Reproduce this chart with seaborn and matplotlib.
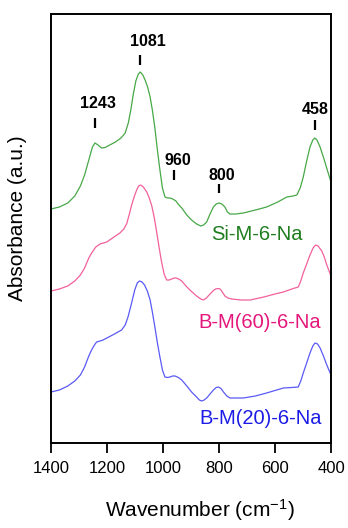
import matplotlib
matplotlib.use("Agg")
import matplotlib.pyplot as plt
import numpy as np
import pandas as pd
import seaborn as sns

# FTIR spectra (absorbance, arbitrary units, stacked with vertical offsets)
wn_si = [1400, 1370, 1340, 1315, 1295, 1280, 1265, 1252, 1243, 1232, 1220, 1207,
         1190, 1170, 1150, 1135, 1124, 1115, 1106, 1097, 1088, 1081, 1072, 1064,
         1055, 1046, 1038, 1029, 1020, 1011, 1002, 993, 984, 975, 965, 954, 943,
         933, 915, 898, 880, 865, 855, 844, 832, 820, 810, 800, 790, 779, 770, 761,
         740, 713, 670, 630, 590, 558, 535, 522, 510, 499, 487, 475, 465, 458, 450,
         439, 425, 410, 400]
abs_si = [2.34, 2.36, 2.40, 2.47, 2.57, 2.68, 2.83, 2.96, 3.00, 2.98, 2.95, 2.955,
          2.98, 3.01, 3.05, 3.10, 3.20, 3.33, 3.49, 3.62, 3.69, 3.71, 3.68, 3.63,
          3.56, 3.46, 3.33, 3.15, 2.93, 2.73, 2.55, 2.46, 2.45, 2.45, 2.44, 2.42, 2.38,
          2.35, 2.28, 2.23, 2.19, 2.17, 2.18, 2.21, 2.29, 2.36, 2.39, 2.40, 2.39, 2.36, 2.31, 2.29,
          2.29, 2.30, 2.33, 2.36, 2.41, 2.46, 2.47, 2.48, 2.55, 2.66, 2.82, 2.96, 3.03, 3.05, 3.03,
          2.96, 2.84, 2.70, 2.61]

wn_b60 = [1400, 1370, 1340, 1315, 1295, 1280, 1265, 1255, 1240, 1225, 1201, 1175,
          1154, 1140, 1130, 1121, 1112, 1102, 1094, 1087, 1080, 1070, 1058, 1049,
          1040, 1031, 1022, 1013, 1005, 996, 987, 978, 969, 960, 954, 944, 933, 918,
          904, 880, 865, 856, 845, 832, 820, 812, 803, 796, 788, 779, 768, 755, 720,
          689, 640, 600, 570, 540, 517, 508, 499, 487, 475, 464, 455, 446, 433, 424,
          415, 400]
abs_b60 = [1.52, 1.54, 1.57, 1.62, 1.68, 1.75, 1.85, 1.90, 1.96, 1.99, 2.01, 2.06,
           2.10, 2.14, 2.19, 2.28, 2.38, 2.47, 2.53, 2.57, 2.58, 2.56, 2.51, 2.45,
           2.37, 2.25, 2.10, 1.94, 1.81, 1.69, 1.63, 1.63, 1.64, 1.65, 1.65, 1.64, 1.62, 1.57,
           1.53, 1.47, 1.44, 1.43, 1.45, 1.49, 1.525, 1.54, 1.545, 1.54, 1.51, 1.47, 1.45, 1.44, 1.43,
           1.43, 1.46, 1.49, 1.51, 1.54, 1.56, 1.62, 1.70, 1.79, 1.88, 1.95, 1.98, 1.97, 1.92, 1.86,
           1.78, 1.67]

wn_b20 = [1400, 1370, 1340, 1315, 1295, 1280, 1265, 1255, 1245, 1237, 1225, 1214,
          1180, 1148, 1135, 1125, 1113, 1101, 1092, 1084, 1075, 1066, 1056, 1046,
          1038, 1029, 1020, 1011, 1002, 993, 984, 975, 966, 957, 945, 933, 915, 898,
          880, 870, 862, 853, 844, 832, 820, 810, 802, 793, 784, 772, 761, 740, 713,
          670, 630, 600, 570, 540, 517, 508, 499, 487, 475, 465, 457, 448, 439, 427,
          415, 400]
abs_b20 = [0.51, 0.53, 0.57, 0.62, 0.68, 0.76, 0.87, 0.93, 0.98, 1.01, 1.02, 1.03,
           1.08, 1.13, 1.18, 1.26, 1.39, 1.53, 1.60, 1.62, 1.61, 1.58, 1.52, 1.43,
           1.31, 1.16, 1.00, 0.86, 0.73, 0.66, 0.655, 0.66, 0.67, 0.67, 0.655, 0.63, 0.57, 0.51,
           0.46, 0.43, 0.42, 0.43, 0.45, 0.49, 0.53, 0.555, 0.56, 0.545, 0.51, 0.47, 0.45, 0.45, 0.45,
           0.47, 0.50, 0.525, 0.55, 0.555, 0.56, 0.62, 0.70, 0.80, 0.90, 0.97, 1.00, 0.99, 0.95, 0.87,
           0.78, 0.68]

sample_names = ["Si-M-6-Na", "B-M(60)-6-Na", "B-M(20)-6-Na"]
line_colors = ["#47a847", "#f2609c", "#5a5af5"]
text_colors = ["#1e7d1e", "#e5167c", "#1c1ce6"]
name_pos = [(664, 2.08), (654, 1.21), (650, 0.25)]

# Band assignments marked above the top spectrum
peak_wn = [1243, 1081, 960, 800, 458]
peak_labels = ["1243", "1081", "960", "800", "458"]
peak_mark_y = [(3.15, 3.25), (3.78, 3.88), (2.63, 2.73), (2.50, 2.59), (3.13, 3.23)]
peak_text_xy = [(1231, 3.40), (1053, 4.01), (946, 2.825), (790, 2.67), (455, 3.34)]

x_ticks = [1400, 1200, 1000, 800, 600, 400]

sns.set_style("ticks")
plt.rcParams["font.family"] = ["Liberation Sans", "DejaVu Sans"]
plt.rcParams["mathtext.default"] = "regular"
plt.rcParams["text.color"] = "black"
plt.rcParams["axes.labelcolor"] = "black"
plt.rcParams["xtick.color"] = "black"
plt.rcParams["ytick.color"] = "black"

fig = plt.figure(figsize=(3.48, 5.28), dpi=100)
ax = fig.add_axes([51 / 348, 85 / 528, 280 / 348, 429 / 528])

spectra = [(wn_si, abs_si), (wn_b60, abs_b60), (wn_b20, abs_b20)]
for (wn, ab), name, lc in zip(spectra, sample_names, line_colors):
    df = pd.DataFrame({"Wavenumber": wn, "Absorbance": ab})
    sns.lineplot(data=df, x="Wavenumber", y="Absorbance", color=lc,
                 linewidth=0.9, ax=ax, sort=False, estimator=None)

for name, tc, (tx, ty) in zip(sample_names, text_colors, name_pos):
    ax.text(tx, ty, name, color=tc, fontsize=14.5, ha="center", va="center")

for wn, lab, (y0, y1), (tx, ty) in zip(peak_wn, peak_labels, peak_mark_y, peak_text_xy):
    ax.plot([wn, wn], [y0, y1], color="black", linewidth=1.6, solid_capstyle="butt")
    ax.text(tx, ty, lab, fontsize=11.5, fontweight="bold", ha="center", va="center",
            color="black")

ax.set_xlim(1400, 400)
ax.set_ylim(0, 4.29)
ax.set_xticks(x_ticks)
ax.set_xticklabels([str(t) for t in x_ticks], fontsize=12)
ax.set_yticks([])
ax.tick_params(axis="x", direction="out", length=7, width=1.3, pad=6, colors="black")

for sp in ax.spines.values():
    sp.set_linewidth(1.4)
    sp.set_color("black")
    sp.set_visible(True)

ax.set_xlabel(r"Wavenumber (cm$^{-1}$)", fontsize=15)
ax.set_ylabel("Absorbance (a.u.)", fontsize=15)
ax.xaxis.set_label_coords(0.53, -0.125)
ax.yaxis.set_label_coords(-0.085, 0.525)

fig.savefig("out.png", dpi=100)
